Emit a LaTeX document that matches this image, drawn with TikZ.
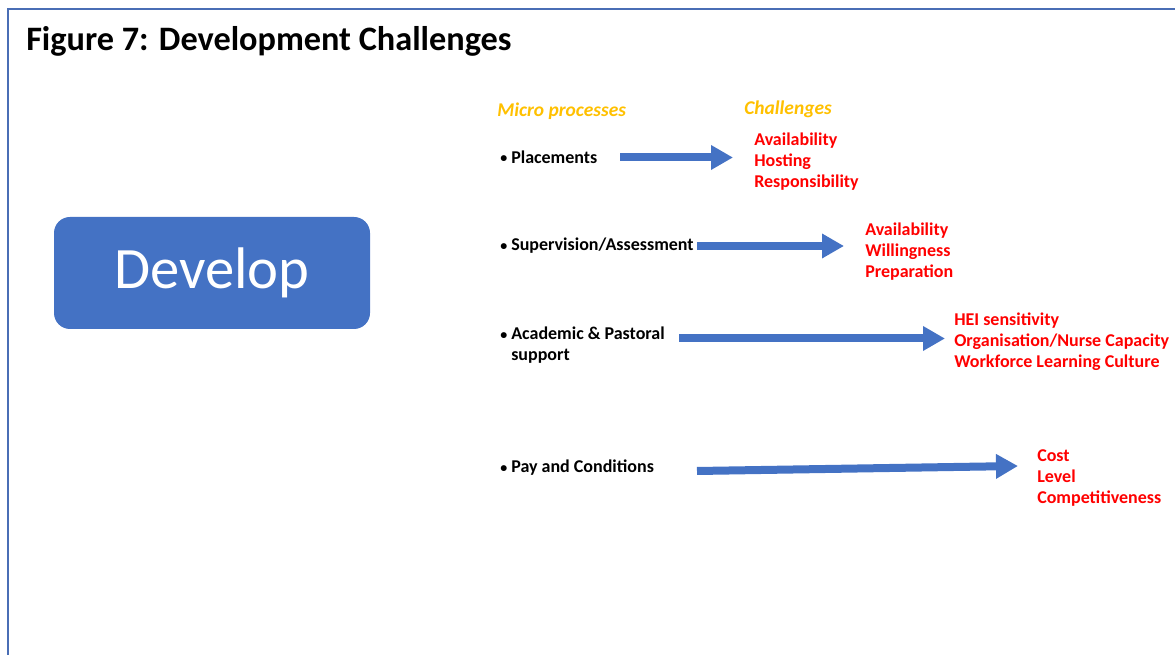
\documentclass[tikz,border=0pt]{standalone}
\usepackage{fontspec}
\setmainfont{Carlito}
\usetikzlibrary{arrows.meta}
\definecolor{dblue}{HTML}{4472C4}
\definecolor{bordblue}{HTML}{4A6EB5}
\definecolor{chred}{HTML}{FF0000}
\definecolor{hdorange}{HTML}{FFC000}
\newcommand\mybul{\makebox[8.25pt][l]{\raisebox{0.3pt}{\fontsize{10.5}{10.5}\selectfont•}}}
\tikzset{
  item/.style={anchor=west, inner sep=0pt, font=\fontsize{13.5}{15.5}\selectfont\bfseries, text=black, align=left},
  chlist/.style={anchor=west, inner sep=0pt, font=\fontsize{13.5}{15.75}\selectfont\bfseries, text=chred, align=left},
  header/.style={anchor=west, inner sep=0pt, font=\fontsize{14.6}{16}\selectfont\bfseries\itshape, text=hdorange},
  bigarrow/.style={dblue, line width=6pt, -{Triangle[length=16.5pt, width=17.5pt]}, shorten >=0pt},
}
\begin{document}
\begin{tikzpicture}[x=0.75pt, y=-0.75pt]
\useasboundingbox (0,0) rectangle (1175,655);
% frame
\draw[bordblue, line width=1.2pt] (8,655) -- (8,9) -- (1175,9);
% title
\node[anchor=west, inner sep=0pt, font=\fontsize{25.7}{30}\selectfont\bfseries] (title) at (26,41) {Figure 7: Development Challenges};
% develop box
\node[fill=dblue, rounded corners=12pt, minimum width=237pt, minimum height=84pt, inner sep=0pt, text=white, font=\fontsize{44}{50}\selectfont] (dev) at (212,273) {Develop};
% headers
\node[header] (hmicro) at (497,111) {Micro processes};
\node[header] (hchal) at (744,109) {Challenges};
% items
\node[item] (i1) at (500,157) {\mybul Placements};
\node[item] (i2) at (500,246) {\mybul Supervision/Assessment};
\node[item] (i3) at (500,345) {\mybul Academic \& Pastoral\\\hphantom{\mybul}support};
\node[item] (i4) at (500,468) {\mybul Pay and Conditions};
% challenge lists
\node[chlist] (c1) at (754,162) {Availability\\Hosting\\Responsibility};
\node[chlist] (c2) at (865,252) {Availability\\Willingness\\Preparation};
\node[chlist] (c3) at (954,342) {HEI sensitivity\\Organisation/Nurse Capacity\\Workforce Learning Culture};
\node[chlist] (c4) at (1037,478) {Cost\\Level\\Competitiveness};
% arrow anchors
\coordinate (a1s) at (620,157.5);
\coordinate (a1e) at (733,157.5);
\coordinate (a2s) at (697,246);
\coordinate (a2e) at (844,246);
\coordinate (a3s) at (679,338.5);
\coordinate (a3e) at (945,338.5);
\coordinate (a4s) at (697,471);
\coordinate (a4e) at (1018,466);
\draw[bigarrow] (a1s) -- (a1e);
\draw[bigarrow] (a2s) -- (a2e);
\draw[bigarrow] (a3s) -- (a3e);
\draw[bigarrow] (a4s) -- (a4e);
\end{tikzpicture}
\end{document}
